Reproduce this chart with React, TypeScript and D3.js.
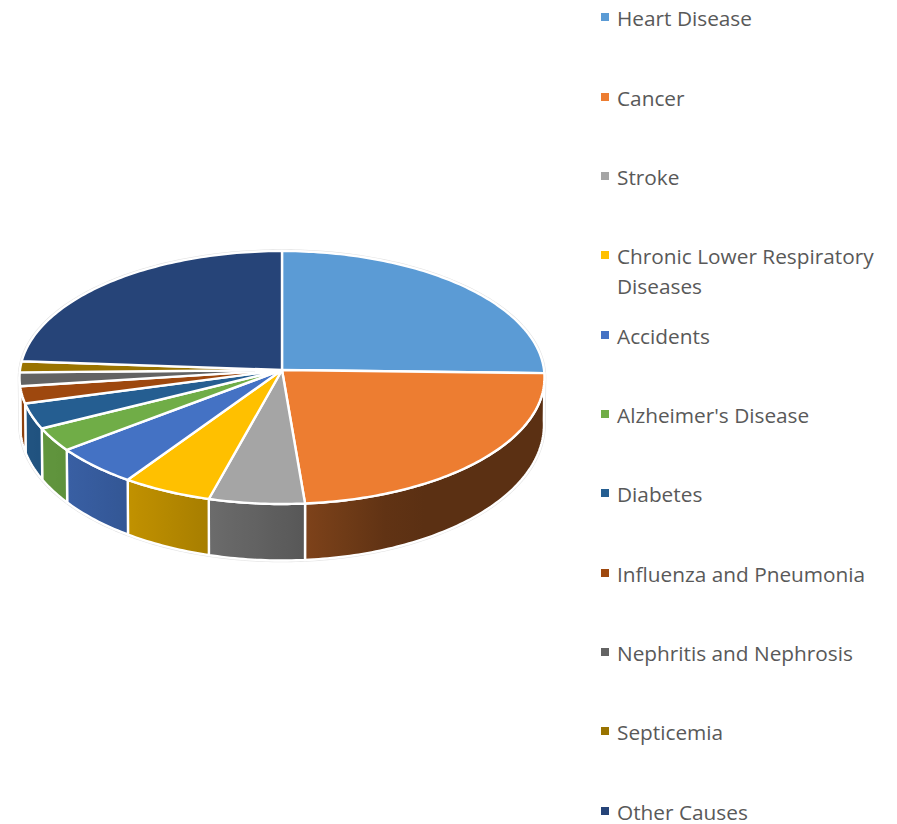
import React from "react";
import * as d3 from "d3";

const categories = [
  "Heart Disease", "Cancer", "Stroke", "Chronic Lower Respiratory Diseases", "Accidents",
  "Alzheimer's Disease", "Diabetes", "Influenza and Pneumonia", "Nephritis and Nephrosis",
  "Septicemia", "Other Causes",
];
const values = [24.45, 24.15, 5.9, 5.5, 5.3, 3.1, 3.3, 2.2, 1.75, 1.4, 22.95];
const colors = [
  "#5B9BD5", "#ED7D31", "#A5A5A5", "#FFC000", "#4472C4", "#70AD47",
  "#255E91", "#9E480E", "#636363", "#997300", "#264478",
];
const legendCentres = [18, 98, 177, 256, 336, 415, 494, 574, 653, 732, 812];

const W = 897, H = 824;
const cx = 282, apexY = 370;
const topRim = { cy: 377.5, rx: 262.5, ry: 126.5 };
const botRim = { cy: 424.8, rx: 262, ry: 135.7 };
const lineGen = d3.line<[number, number]>();
const shade = d3.scaleLinear<number>().domain([20, 41, 305, 400, 545]).range([0.9, 0.87, 0.53, 0.385, 0.385]).clamp(true);

const rimPt = (r: typeof topRim, t: number): [number, number] => [
  cx + r.rx * Math.sin(t),
  r.cy - r.ry * Math.cos(t),
];
const samples = (a: number, b: number) => {
  const n = Math.max(2, Math.ceil(((b - a) * 180) / Math.PI));
  return d3.range(n + 1).map((i) => a + ((b - a) * i) / n);
};
const darken = (c: string, k: number) => {
  const q = d3.rgb(c);
  return d3.rgb(q.r * k, q.g * k, q.b * k).formatHex();
};

export default function App() {
  const arcs = d3.pie<number>().sort(null)(values);
  const silhouette = lineGen([
    ...samples(0, Math.PI / 2).map((t) => rimPt(topRim, t)),
    ...samples(Math.PI / 2, 1.5 * Math.PI).map((t) => rimPt(botRim, t)),
    ...samples(1.5 * Math.PI, 2 * Math.PI).map((t) => rimPt(topRim, t)),
  ]) + "Z";
  const walls = arcs
    .map((d, i) => {
      const a = Math.max(d.startAngle, Math.PI * 0.49);
      const b = Math.min(d.endAngle, Math.PI * 1.5);
      return { i, a, b };
    })
    .filter((w) => w.b > w.a);

  return (
    <svg width={W} height={H} viewBox={`0 0 ${W} ${H}`} style={{ position: "absolute", left: 0, top: 0, display: "block" }}>
      <defs>
        {walls.map(({ i, a, b }) => {
          const x1 = Math.min(rimPt(topRim, a)[0], rimPt(topRim, b)[0]);
          const x2 = Math.max(rimPt(topRim, a)[0], rimPt(topRim, b)[0]);
          const stops = d3.range(7).map((k) => x1 + ((x2 - x1) * k) / 6);
          return (
            <linearGradient key={i} id={`wall${i}`} gradientUnits="userSpaceOnUse" x1={x1} x2={x2} y1={0} y2={0}>
              {stops.map((x, k) => (
                <stop key={k} offset={k / 6} stopColor={darken(colors[i], shade(x))} />
              ))}
            </linearGradient>
          );
        })}
      </defs>
      <path d={silhouette} fill="none" stroke="#e2e2e2" strokeWidth={3.5} strokeLinejoin="round" />
      {walls.map(({ i, a, b }) => {
        const pts = [
          ...samples(a, b).map((t) => rimPt(topRim, t)),
          ...samples(a, b).reverse().map((t) => rimPt(botRim, t)),
        ];
        return (
          <path key={i} d={lineGen(pts) + "Z"} fill={`url(#wall${i})`} stroke="#fff" strokeWidth={2.4} strokeLinejoin="round" />
        );
      })}
      {arcs.map((d, i) => {
        const pts: [number, number][] = [[cx, apexY], ...samples(d.startAngle, d.endAngle).map((t) => rimPt(topRim, t))];
        return <path key={i} d={lineGen(pts) + "Z"} fill={colors[i]} stroke="#fff" strokeWidth={2.4} strokeLinejoin="round" />;
      })}
      <g fontFamily="'Open Sans', sans-serif" fontSize={20.8} fill="#595959">
        {categories.map((c, i) => {
          const y = legendCentres[i];
          const two = c.startsWith("Chronic");
          return (
            <g key={c}>
              <rect x={601} y={y - 5} width={8} height={8} fill={colors[i]} />
              {two ? (
                <text x={617} y={y + 8}>
                  <tspan x={617}>Chronic Lower Respiratory</tspan>
                  <tspan x={617} dy={30}>Diseases</tspan>
                </text>
              ) : (
                <text x={617} y={y + 8}>{c}</text>
              )}
            </g>
          );
        })}
      </g>
    </svg>
  );
}
